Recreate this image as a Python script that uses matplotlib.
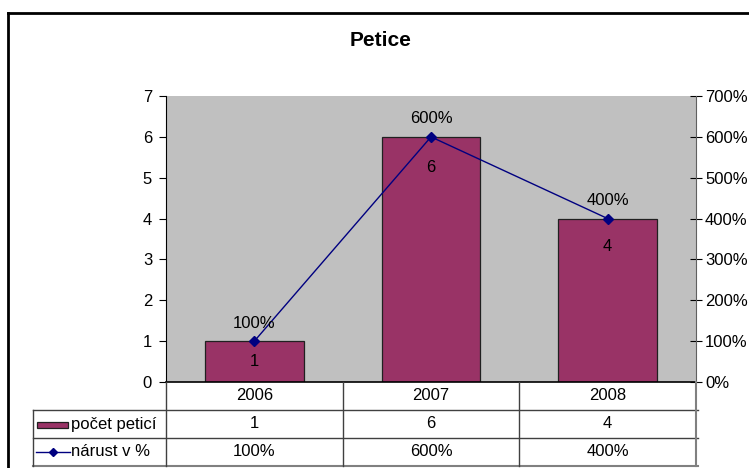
import matplotlib
matplotlib.use('Agg')
import matplotlib.pyplot as plt
from matplotlib.transforms import blended_transform_factory
from matplotlib.lines import Line2D
from matplotlib.patches import Rectangle
from matplotlib.ticker import FuncFormatter

# ---- data ----
title = 'Petice'
years = ['2006', '2007', '2008']
counts = [1, 6, 4]
growth = [1.0, 6.0, 4.0]            # as fraction (1.0 = 100 %)
growth_labels = ['100%', '600%', '400%']
series_names = ['počet peticí', 'nárust v %']
left_ticks = [0, 1, 2, 3, 4, 5, 6, 7]
right_ticks = [0, 1, 2, 3, 4, 5, 6, 7]

# ---- style ----
plt.rcParams['font.family'] = ['Liberation Sans', 'DejaVu Sans']
BAR = '#993366'
LINE = '#000080'
GRID = '#404040'
FS = 12

W, H = 749, 468
fig = plt.figure(figsize=(W / 100, H / 100), dpi=100)


def fx(px):
    return px / W


def fy(py):
    return 1 - py / H


# outer chart frame (cropped on right / bottom)
fig.add_artist(Line2D([fx(8), fx(749)], [fy(12.5), fy(12.5)], color='black', lw=2))
fig.add_artist(Line2D([fx(8), fx(8)], [fy(12.5), fy(468)], color='black', lw=2))

fig.text(fx(381), fy(41), title, ha='center', va='center', fontsize=15, fontweight='bold')

ax = fig.add_axes([fx(166), fy(382), fx(696) - fx(166), fy(96) - fy(382)])
ax.set_facecolor('#C0C0C0')
x = list(range(len(years)))
bars = ax.bar(x, counts, width=0.56, color=BAR, edgecolor='#202020', lw=0.9, zorder=2)
ax.set_xlim(-0.5, len(years) - 0.5)
ax.set_ylim(0, 7)
ax.set_yticks(left_ticks)
ax.set_xticks([])
ax.tick_params(axis='y', direction='out', length=5, labelsize=FS, pad=5, colors='black')
for s in ['top', 'right']:
    ax.spines[s].set_visible(False)
ax.spines['left'].set_color('black')
ax.spines['bottom'].set_color('black')
ax.spines['bottom'].set_linewidth(1.2)

offsets = [-20, -31, -28]
for xi, v, off in zip(x, counts, offsets):
    ax.annotate(str(v), (xi, v), xytext=(0, off * 0.72), textcoords='offset points',
                ha='center', va='center', fontsize=FS, zorder=5)

ax2 = ax.twinx()
ax2.plot(x, growth, color=LINE, lw=1, marker='D', markersize=5, zorder=4)
ax2.set_ylim(0, 7)
ax2.set_yticks(right_ticks)
ax2.yaxis.set_major_formatter(FuncFormatter(lambda v, p: f'{int(round(v * 100))}%'))
ax2.tick_params(axis='y', direction='inout', length=9, labelsize=FS, pad=2, colors='black')
for s in ['top', 'left', 'bottom']:
    ax2.spines[s].set_visible(False)
ax2.spines['right'].set_color('#606060')
for xi, v, lab in zip(x, growth, growth_labels):
    ax2.annotate(lab, (xi, v), xytext=(0, 13), textcoords='offset points',
                 ha='center', va='center', fontsize=FS, zorder=5)

# ---- data table ----
bt = blended_transform_factory(ax.transData, fig.transFigure)
xr = fx(698)
lab_left = fx(33)

# horizontal lines
fig.add_artist(Line2D([lab_left, xr], [fy(410), fy(410)], color=GRID, lw=1))
fig.add_artist(Line2D([lab_left, xr], [fy(438), fy(438)], color=GRID, lw=1))
fig.add_artist(Line2D([lab_left, xr], [fy(466), fy(466)], color='#808080', lw=1.5))
# vertical lines
fig.add_artist(Line2D([lab_left, lab_left], [fy(410), fy(466)], color=GRID, lw=1))
for i in range(len(years) + 1):
    xb = i - 0.5
    last = i == len(years)
    fig.add_artist(Line2D([xb, xb], [fy(382), fy(466)], color='#808080' if last else GRID,
                          lw=1.5 if last else 1, transform=bt))

for xi, yr, c, g in zip(x, years, counts, growth_labels):
    fig.text(xi, fy(396), yr, transform=bt, ha='center', va='center', fontsize=FS)
    fig.text(xi, fy(424), str(c), transform=bt, ha='center', va='center', fontsize=FS)
    fig.text(xi, fy(452), g, transform=bt, ha='center', va='center', fontsize=FS)

# legend keys in table
fig.add_artist(Rectangle((fx(37), fy(427.5)), fx(68) - fx(37), fy(421.5) - fy(427.5),
                         facecolor=BAR, edgecolor='#202020', lw=0.9))
fig.add_artist(Line2D([fx(36), fx(70)], [fy(452), fy(452)], color=LINE, lw=1))
fig.add_artist(Line2D([fx(53)], [fy(452)], color=LINE, marker='D', markersize=4.5))
fig.text(fx(71), fy(424), series_names[0], ha='left', va='center', fontsize=FS)
fig.text(fx(71), fy(452), series_names[1], ha='left', va='center', fontsize=FS)

fig.savefig('out.png', dpi=100)
